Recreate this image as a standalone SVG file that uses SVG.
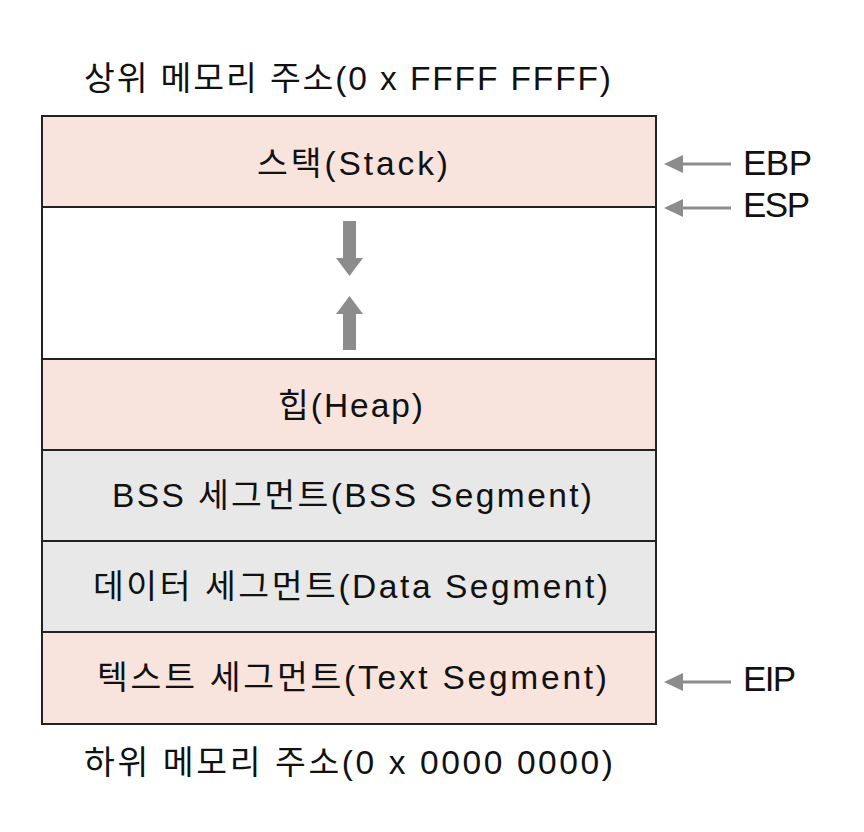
<svg xmlns="http://www.w3.org/2000/svg" width="864" height="832" viewBox="0 0 864 832">
<style>
text{font-family:"Liberation Sans","Noto Sans CJK KR",sans-serif;font-size:33.5px;fill:#111;}
.reg{font-size:35px;}
.pink{fill:#F9E3DD;stroke:#222;stroke-width:2;}
.grey{fill:#E8E8E8;stroke:#222;stroke-width:2;}
.white{fill:#FFFFFF;stroke:#222;stroke-width:2;}
.ptr{stroke:#8C8C8C;stroke-width:3;fill:none;}
.ah{fill:#8C8C8C;}
</style>
<rect width="864" height="832" fill="#fff"/>
<text id="top-label" x="84" y="90" textLength="527">상위 메모리 주소(0 x FFFF FFFF)</text>
<g id="stack"><rect class="pink" x="42" y="116" width="614" height="91"/><text x="257" y="175" textLength="191">스택(Stack)</text></g>
<g id="free"><rect class="white" x="42" y="207" width="614" height="152"/></g>
<g id="heap"><rect class="pink" x="42" y="359" width="614" height="91"/><text x="278" y="417" textLength="145">힙(Heap)</text></g>
<g id="bss"><rect class="grey" x="42" y="450" width="614" height="91"/><text x="112" y="507" textLength="480">BSS 세그먼트(BSS Segment)</text></g>
<g id="data"><rect class="grey" x="42" y="541" width="614" height="91"/><text x="93" y="598" textLength="515">데이터 세그먼트(Data Segment)</text></g>
<g id="text"><rect class="pink" x="42" y="632" width="614" height="92"/><text x="97" y="689" textLength="510">텍스트 세그먼트(Text Segment)</text></g>
<text id="bottom-label" x="84" y="774" textLength="529">하위 메모리 주소(0 x 0000 0000)</text>
<g id="connectors">
<polygon class="ah" points="343,221 356,221 356,258 363,258 349.5,276 336,258 343,258"/>
<polygon class="ah" points="349.5,296 363,314 356,314 356,350 343,350 343,314 336,314"/>
<line class="ptr" x1="731" y1="164" x2="680" y2="164"/><polygon class="ah" points="664,164 683,155 683,173"/>
<line class="ptr" x1="731" y1="208" x2="680" y2="208"/><polygon class="ah" points="664,208 683,199 683,217"/>
<line class="ptr" x1="731" y1="682" x2="680" y2="682"/><polygon class="ah" points="664,682 683,673 683,691"/>
</g>
<g id="regs">
<text class="reg" x="743" y="175" textLength="69">EBP</text>
<text class="reg" x="743" y="217" textLength="67">ESP</text>
<text class="reg" x="743" y="691" textLength="53">EIP</text>
</g>
</svg>
